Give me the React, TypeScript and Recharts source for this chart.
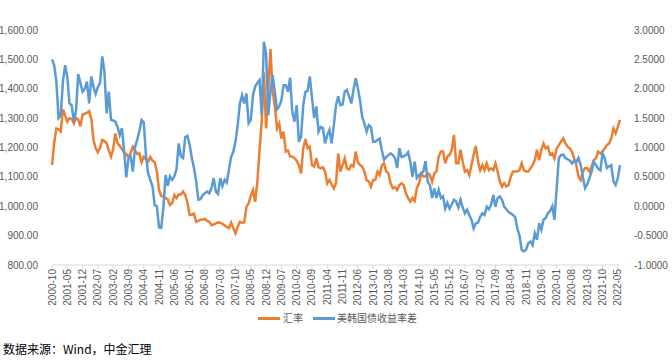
import React from 'react';
import { LineChart, Line, XAxis, YAxis } from 'recharts';

// 汇率 (USD/KRW), monthly, 2000-10 .. 2022-06
const rateValues: number[] = [
  1140, 1215, 1265,
  1262, 1255, 1330, 1310, 1288, 1300, 1298, 1282, 1300, 1295, 1272, 1312,
  1315, 1318, 1324, 1298, 1225, 1198, 1184, 1200, 1226, 1222, 1215, 1190,
  1169, 1195, 1248, 1215, 1205, 1195, 1182, 1178, 1167, 1182, 1203, 1190,
  1178, 1180, 1150, 1168, 1160, 1152, 1167, 1155, 1150, 1118, 1055, 1035,
  1033, 1028, 1023, 1004, 1010, 1038, 1028, 1040, 1040, 1050, 1038, 1012,
  970, 972, 975, 947, 950, 954, 955, 957, 950, 947, 936, 938,
  942, 945, 944, 940, 935, 930, 926, 944, 925, 908, 930, 947,
  944, 945, 998, 1010, 1035, 1055, 1015, 1084, 1190, 1290, 1455, 1265,
  1395, 1535, 1390, 1340, 1265, 1282, 1230, 1254, 1186, 1190, 1169, 1169,
  1163, 1155, 1140, 1112, 1197, 1229, 1197, 1203, 1140, 1135, 1163, 1133,
  1129, 1133, 1118, 1078, 1090, 1075, 1061, 1078, 1180, 1118, 1140, 1163,
  1129, 1125, 1140, 1135, 1186, 1150, 1140, 1135, 1118, 1089, 1085, 1067,
  1089, 1089, 1118, 1106, 1140, 1146, 1118, 1112, 1078, 1061, 1065, 1055,
  1072, 1078, 1072, 1044, 1028, 1016, 1028, 1018, 1061, 1078, 1112, 1101,
  1101, 1112, 1106, 1084, 1112, 1118, 1169, 1186, 1186, 1146, 1169, 1175,
  1192, 1243, 1146, 1146, 1192, 1152, 1118, 1123, 1106, 1140, 1175, 1205,
  1152, 1123, 1140, 1123, 1146, 1123, 1129, 1123, 1146, 1118, 1084, 1067,
  1078, 1067, 1072, 1101, 1118, 1118, 1118, 1123, 1146, 1123, 1118, 1118,
  1129, 1140, 1157, 1192, 1157, 1192, 1214, 1197, 1203, 1175, 1180, 1163,
  1197, 1208, 1220, 1231, 1215, 1203, 1197, 1186, 1163, 1140, 1101, 1089,
  1118, 1129, 1129, 1118, 1135, 1157, 1163, 1186, 1180, 1186, 1197, 1208,
  1214, 1231, 1265, 1248, 1270, 1294,
];

// 美韩国债收益率差, monthly, 2000-10 .. 2022-06
const spreadValues: number[] = [
  2.50, 2.40, 2.12, 1.50, 1.55, 2.12, 2.40, 2.20, 1.75, 1.72, 1.44, 1.63,
  2.25, 2.10, 1.95, 2.00, 2.12, 1.75, 2.21, 2.03, 1.91, 2.03, 2.10, 2.55,
  2.29, 1.58, 1.95, 1.47, 1.46, 1.44, 1.35, 1.21, 1.33, 0.96, 0.49, 0.82,
  0.85, 0.59, 1.00, 1.13, 1.28, 1.47, 1.43, 0.87, 0.56, 0.45, 0.34, 0.02,
  0.00, -0.36, -0.37, -0.01, 0.53, 0.35, 0.51, 0.45, 0.51, 0.63, 1.07, 0.85,
  0.82, 1.18, 1.20, 1.05, 0.82, 0.65, 0.42, 0.11, 0.12, 0.19, 0.22, 0.25,
  0.22, 0.31, 0.48, 0.25, 0.21, 0.48, 0.34, 0.45, 0.40, 0.62, 0.84, 0.93,
  1.10, 1.38, 1.75, 1.89, 1.75, 1.92, 1.41, 1.47, 1.89, 2.04, 2.10, 2.15,
  1.55, 2.80, 2.60, 1.55, 1.95, 2.23, 1.95, 1.65, 1.70, 1.80, 2.06, 2.06,
  1.95, 2.19, 1.60, 1.44, 1.72, 1.10, 1.18, 1.72, 1.95, 1.96, 2.21, 1.85,
  1.50, 1.70, 1.27, 1.35, 1.33, 1.07, 1.21, 1.30, 1.07, 1.38, 1.72, 1.87,
  1.72, 1.73, 1.95, 1.98, 1.87, 1.75, 1.98, 2.18, 2.01, 1.80, 1.52, 1.41,
  1.27, 1.38, 1.35, 1.10, 1.10, 1.13, 1.15, 0.95, 0.79, 0.84, 0.87, 0.90,
  0.87, 0.82, 0.65, 0.99, 0.84, 0.85, 0.87, 0.92, 0.76, 0.50, 0.76, 0.48,
  0.53, 0.56, 0.59, 0.77, 0.42, 0.36, 0.14, 0.30, 0.14, 0.28, 0.14, 0.17,
  -0.04, 0.06, -0.04, 0.03, 0.11, 0.08, -0.02, 0.11, -0.02, -0.12, -0.06, -0.15,
  -0.23, -0.38, -0.29, -0.28, -0.18, -0.12, -0.15, -0.01, -0.05, 0.03, 0.19, -0.01,
  0.14, 0.17, 0.11, -0.01, -0.05, -0.10, -0.12, -0.15, -0.18, -0.38, -0.50, -0.74,
  -0.77, -0.74, -0.63, -0.60, -0.66, -0.46, -0.57, -0.29, -0.40, -0.23, -0.20, -0.12,
  -0.08, 0.00, -0.23, 0.30, 0.82, 0.87, 0.88, 0.82, 0.80, 0.78, 0.73, 0.78,
  0.75, 0.82, 0.70, 0.50, 0.31, 0.37, 0.48, 0.59, 0.76, 0.70, 0.64, 0.61,
  0.90, 0.82, 0.65, 0.68, 0.70, 0.42, 0.36, 0.48, 0.70,
];

const leftTicks: number[] = [800, 900, 1000, 1100, 1200, 1300, 1400, 1500, 1600];
const rightTicks: number[] = [-1, -0.5, 0, 0.5, 1, 1.5, 2, 2.5, 3];

const seriesNames = { rate: '汇率', spread: '美韩国债收益率差' };
const sourceText = '数据来源：Wind，中金汇理';

const months: string[] = [];
{
  let y = 2000;
  let m = 10;
  for (let i = 0; i < rateValues.length; i++) {
    months.push(`${y}-${m < 10 ? '0' + m : m}`);
    m++;
    if (m > 12) {
      m = 1;
      y++;
    }
  }
}

const data = months.map((month, i) => ({
  month,
  rate: rateValues[i],
  spread: spreadValues[i],
}));

const ORANGE = '#ED7D31';
const BLUE = '#5B9BD5';
const LABEL = '#595959';

const XTick = (props: any) => {
  const { x, y, payload } = props;
  return (
    <g transform={`translate(${x},${y})`}>
      <text
        x={0}
        y={0}
        transform="rotate(-90)"
        textAnchor="end"
        dominantBaseline="central"
        fontSize={10}
        fill={LABEL}
      >
        {payload.value}
      </text>
    </g>
  );
};

const fmtLeft = (v: number) =>
  v.toLocaleString('en-US', { minimumFractionDigits: 2, maximumFractionDigits: 2 });
const fmtRight = (v: number) => v.toFixed(4);

export default function App() {
  return (
    <div
      style={{
        position: 'absolute',
        left: 0,
        top: 0,
        width: 672,
        height: 363,
        background: '#fff',
        fontFamily: '"Liberation Sans", Arial, sans-serif',
      }}
    >
      <LineChart
        width={672}
        height={305}
        data={data}
        margin={{ top: 30, right: 0, bottom: 0, left: 0 }}
      >
        <XAxis
          dataKey="month"
          interval={6}
          height={40}
          tick={<XTick />}
          tickSize={4}
          tickMargin={0}
          tickLine={{ stroke: '#d9d9d9' }}
          axisLine={{ stroke: '#d9d9d9' }}
        />
        <YAxis
          yAxisId="left"
          domain={[800, 1600]}
          ticks={leftTicks}
          width={52}
          axisLine={false}
          tickLine={false}
          tickMargin={8}
          tickFormatter={fmtLeft}
          tick={{ fontSize: 10, fill: LABEL }}
          allowDataOverflow
        />
        <YAxis
          yAxisId="right"
          orientation="right"
          domain={[-1, 3]}
          ticks={rightTicks}
          width={52}
          axisLine={false}
          tickLine={false}
          tickMargin={8}
          tickFormatter={fmtRight}
          tick={{ fontSize: 10, fill: LABEL, textAnchor: 'start' }}
          allowDataOverflow
        />
        <Line
          yAxisId="left"
          type="linear"
          dataKey="rate"
          name={seriesNames.rate}
          stroke={ORANGE}
          strokeWidth={2.5}
          dot={false}
          isAnimationActive={false}
        />
        <Line
          yAxisId="right"
          type="linear"
          dataKey="spread"
          name={seriesNames.spread}
          stroke={BLUE}
          strokeWidth={2.5}
          dot={false}
          isAnimationActive={false}
        />
      </LineChart>
      <div style={{ position: 'absolute', left: 258, top: 317, width: 22, height: 3, background: ORANGE }} />
      <div style={{ position: 'absolute', left: 283, top: 311, fontSize: 10, color: LABEL, lineHeight: '14px', whiteSpace: 'nowrap', fontFamily: '"Noto Sans CJK SC", sans-serif' }}>
        {seriesNames.rate}
      </div>
      <div style={{ position: 'absolute', left: 313, top: 317, width: 22, height: 3, background: BLUE }} />
      <div style={{ position: 'absolute', left: 337, top: 311, fontSize: 10, color: LABEL, lineHeight: '14px', whiteSpace: 'nowrap', fontFamily: '"Noto Sans CJK SC", sans-serif' }}>
        {seriesNames.spread}
      </div>
      <div style={{ position: 'absolute', left: 3, top: 341, fontSize: 12, color: '#000', lineHeight: '16px', whiteSpace: 'nowrap', fontFamily: '"Noto Sans CJK SC", sans-serif' }}>
        {sourceText}
      </div>
    </div>
  );
}
